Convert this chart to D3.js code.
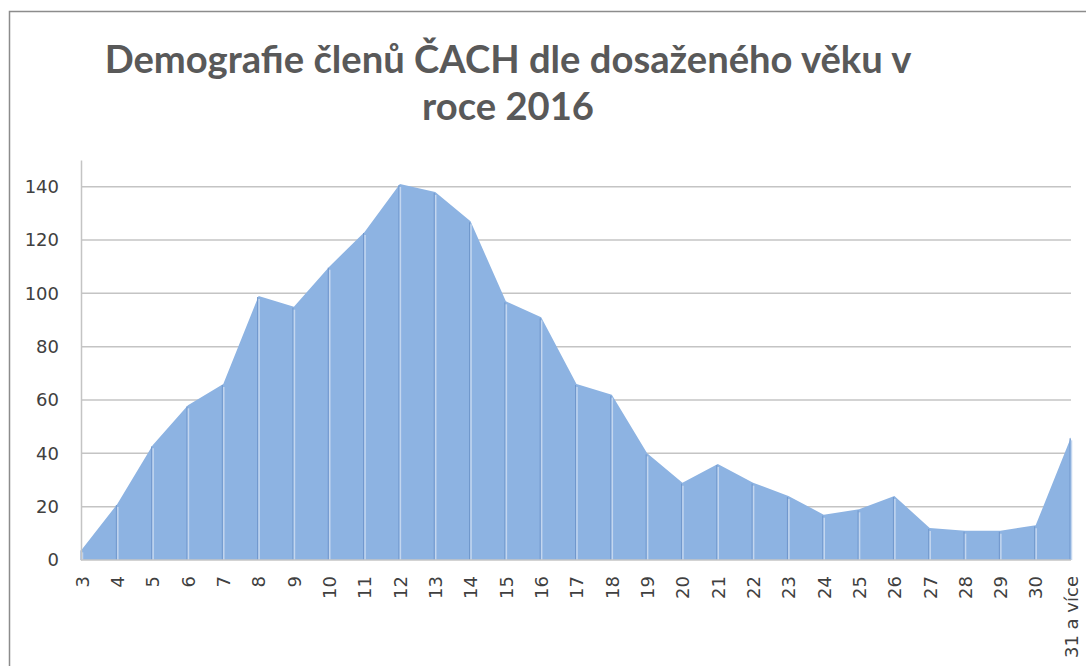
<!DOCTYPE html>
<html>
<head>
<meta charset="utf-8">
<script src="https://cdn.jsdelivr.net/npm/d3@7"></script>
<style>
  body { margin: 0; background: #fff; }
  svg { display: block; }
</style>
</head>
<body>
<div id="chart"></div>
<script>
// Data
var categories = ["3", "4", "5", "6", "7", "8", "9", "10", "11", "12", "13", "14", "15", "16",
  "17", "18", "19", "20", "21", "22", "23", "24", "25", "26", "27", "28", "29", "30", "31 a více"];
var members = [4, 21, 43, 58, 66, 99, 95, 110, 123, 141, 138, 127, 97, 91,
  66, 62, 40, 29, 36, 29, 24, 17, 19, 24, 12, 11, 11, 13, 46];
var yTicks = [0, 20, 40, 60, 80, 100, 120, 140];
var titleLines = ["Demografie členů ČACH dle dosaženého věku v", "roce 2016"];

var W = 1086, H = 666;
var margin = { top: 160, right: 14, bottom: 106, left: 81 };
var width = W - margin.left - margin.right,
    height = H - margin.top - margin.bottom;

var svg = d3.select("#chart").append("svg")
    .attr("width", W)
    .attr("height", H);

// chart frame (only top and left edges fall inside the picture)
svg.append("rect")
    .attr("x", 9.5).attr("y", 11.5)
    .attr("width", W + 20).attr("height", H + 20)
    .attr("fill", "none")
    .attr("stroke", "#8c8c8c")
    .attr("stroke-width", 1.5);

// title
var title = svg.append("g").attr("class", "title");
var t1 = title.append("text")
    .attr("x", 508).attr("y", 73)
    .attr("text-anchor", "middle")
    .style("font-family", "Lato, 'Open Sans', sans-serif")
    .style("font-weight", "bold")
    .style("font-size", "34px")
    .attr("fill", "#595959")
    .text(titleLines[0]);
// fit the first line to the reference width
var fs = 34 * 807 / t1.node().getComputedTextLength();
t1.style("font-size", fs + "px");
title.append("text")
    .attr("x", 508).attr("y", 120)
    .attr("text-anchor", "middle")
    .style("font-family", "Lato, 'Open Sans', sans-serif")
    .style("font-weight", "bold")
    .style("font-size", fs + "px")
    .attr("fill", "#595959")
    .text(titleLines[1]);

var g = svg.append("g")
    .attr("transform", "translate(" + margin.left + "," + margin.top + ")");

var x = d3.scalePoint()
    .domain(categories)
    .range([1, width - 1]);

var y = d3.scaleLinear()
    .domain([0, 150])
    .range([height, 0]);

// gridlines
g.append("g")
    .selectAll("line")
    .data(yTicks.slice(1))
    .enter().append("line")
    .attr("x1", 0).attr("x2", x(categories[categories.length - 1]))
    .attr("y1", function (d) { return y(d); })
    .attr("y2", function (d) { return y(d); })
    .attr("stroke", "#c4c4c4")
    .attr("stroke-width", 1.5);

// area
var area = d3.area()
    .x(function (d, i) { return x(categories[i]); })
    .y0(y(0))
    .y1(function (d) { return y(d); });

g.append("path")
    .datum(members)
    .attr("d", area)
    .attr("fill", "#8db3e2");

// drop lines at each category
var drops = g.append("g").selectAll("g")
    .data(members)
    .enter().append("g");
drops.append("line")
    .attr("x1", function (d, i) { return x(categories[i]) - 1; })
    .attr("x2", function (d, i) { return x(categories[i]) - 1; })
    .attr("y1", function (d) { return y(d) + 1; })
    .attr("y2", y(0))
    .attr("stroke", "#7097cc")
    .attr("stroke-width", 1);
drops.append("line")
    .attr("x1", function (d, i) { return x(categories[i]) + 0.5; })
    .attr("x2", function (d, i) { return x(categories[i]) + 0.5; })
    .attr("y1", function (d) { return y(d) + 3; })
    .attr("y2", y(0))
    .attr("stroke", "#c3d6ef")
    .attr("stroke-width", 1.5);

// y axis
var yAxis = g.append("g")
    .call(d3.axisLeft(y).tickValues(yTicks).tickSize(0).tickPadding(22));
yAxis.select(".domain").attr("stroke", "#c4c4c4").attr("stroke-width", 1.5);
yAxis.selectAll("text")
    .style("font-family", "'DejaVu Sans', sans-serif")
    .style("font-size", "18px")
    .attr("fill", "#404040");

// x axis
var xAxis = g.append("g")
    .attr("transform", "translate(0," + height + ")")
    .call(d3.axisBottom(x).tickSize(0));
xAxis.select(".domain")
    .attr("d", "M0,0H" + x(categories[categories.length - 1]))
    .attr("stroke", "#c4c4c4").attr("stroke-width", 1.5);
xAxis.selectAll("text")
    .attr("transform", "rotate(-90)")
    .attr("x", -16).attr("y", 0)
    .attr("dy", "0.35em")
    .style("text-anchor", "end")
    .style("font-family", "'DejaVu Sans', sans-serif")
    .style("font-size", "18px")
    .attr("fill", "#404040");
</script>
</body>
</html>
